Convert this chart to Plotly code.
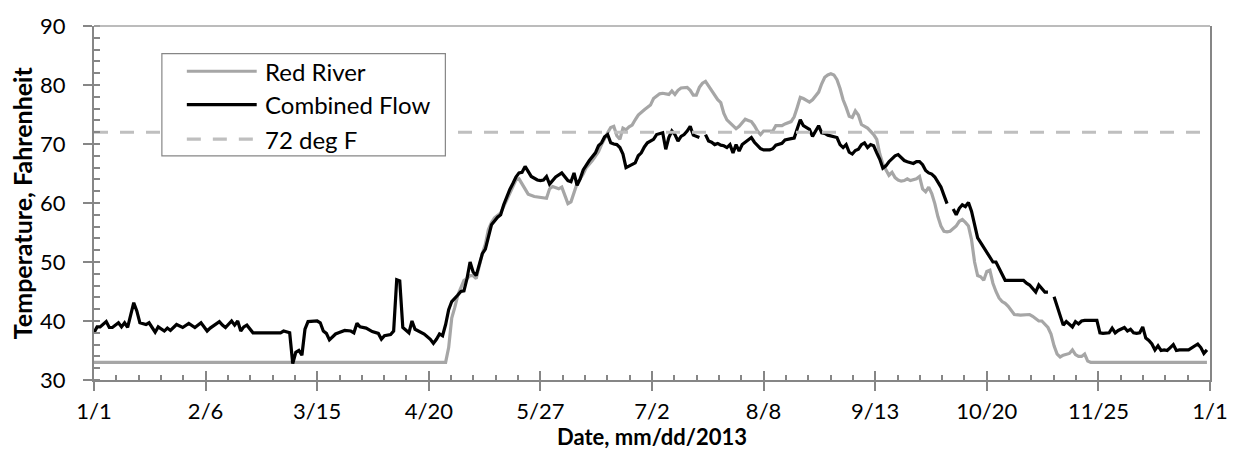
import pandas as pd
import plotly.graph_objects as go

# Daily water temperature (deg F), 2013, keyed by days since 1 Jan 2013.
# None marks days with no Combined Flow record.
red_days = [0, 115, 116, 117, 118, 119, 121, 122, 123, 124, 125, 126, 127, 128, 129, 130,
            131, 133, 134, 135, 136, 137, 138, 139, 140, 141, 142, 144, 146, 147, 148, 149,
            150, 152, 153, 154, 155, 156, 157, 158, 160, 161, 163, 165, 166, 167, 168, 169,
            170, 171, 172, 173, 174, 175, 176, 177, 178, 180, 182, 183, 185, 186, 188, 189,
            190, 191, 192, 194, 195, 196, 197, 198, 199, 200, 201, 202, 203, 204, 205, 206,
            207, 208, 209, 210, 211, 212, 213, 214, 215, 216, 217, 218, 219, 222, 223, 225,
            226, 228, 229, 230, 231, 232, 233, 234, 235, 237, 238, 239, 240, 241, 242, 243,
            244, 245, 246, 247, 248, 249, 250, 251, 253, 254, 255, 256, 257, 258, 259, 260,
            261, 262, 263, 264, 265, 266, 267, 269, 270, 271, 272, 273, 274, 275, 276, 277,
            278, 279, 280, 282, 283, 284, 285, 286, 287, 288, 289, 290, 291, 292, 293, 294,
            295, 296, 297, 298, 299, 300, 301, 303, 305, 306, 307, 308, 309, 310, 311, 312,
            313, 314, 315, 316, 317, 319, 320, 321, 322, 323, 324, 325, 326, 364]
red_temp = [33.0, 33.0, 35.5, 40.5, 42.3, 44.4, 46.9, 47.2, 47.7, 47.7, 47.2, 49.4, 51.4, 53.0, 55.5, 56.7,
            57.5, 58.3, 59.4, 60.5, 61.9, 63.0, 63.9, 64.1, 63.3, 62.3, 61.5, 61.1, 60.9, 60.9, 60.8, 62.4,
            62.8, 62.4, 62.7, 61.3, 59.9, 60.2, 61.6, 63.3, 64.9, 66.0, 67.2, 68.7, 69.9, 71.0, 71.9, 72.8,
            73.0, 71.4, 70.8, 72.7, 72.4, 72.9, 73.2, 74.1, 74.9, 75.8, 76.6, 77.7, 78.5, 78.6, 78.4, 79.0,
            78.4, 79.1, 79.5, 79.6, 79.1, 78.3, 78.3, 79.6, 80.3, 80.6, 79.8, 79.1, 78.1, 77.5, 77.0, 75.2,
            74.1, 73.6, 73.0, 72.6, 73.0, 73.7, 74.2, 74.0, 73.8, 73.1, 72.2, 71.6, 72.2, 72.2, 73.1, 73.1,
            73.4, 73.8, 74.6, 76.2, 77.9, 77.7, 77.4, 77.1, 77.5, 78.8, 80.2, 81.3, 81.7, 81.9, 81.7, 80.9,
            79.4, 77.5, 76.2, 74.7, 74.5, 75.6, 74.9, 73.3, 72.7, 72.2, 71.6, 70.8, 68.3, 66.6, 65.5, 64.7,
            65.2, 64.3, 63.9, 63.7, 63.8, 64.1, 63.8, 64.1, 64.5, 62.4, 61.9, 62.7, 61.6, 59.9, 57.7, 56.1,
            55.2, 55.1, 55.2, 56.1, 56.9, 57.2, 56.7, 56.1, 53.8, 50.0, 47.7, 47.5, 46.9, 48.4, 48.6, 46.4,
            45.0, 43.9, 43.3, 43.0, 42.5, 41.9, 41.1, 41.0, 41.0, 41.1, 40.8, 40.4, 40.0, 40.0, 39.5, 38.9,
            37.8, 35.8, 34.4, 33.9, 34.2, 34.5, 35.1, 34.3, 34.0, 34.0, 34.4, 33.2, 33.0, 33.0]

combined_days = [0, 1, 2, 4, 5, 6, 8, 9, 10, 11, 13, 14, 15, 17, 18, 20, 21, 23, 24, 25, 27, 29,
                 31, 33, 35, 37, 38, 41, 42, 43, 45, 46, 47, 48, 49, 50, 52, 61, 62, 64, 65, 66,
                 67, 68, 69, 70, 73, 74, 75, 76, 77, 79, 80, 82, 84, 85, 86, 87, 89, 91, 93, 94,
                 95, 97, 98, 99, 100, 101, 103, 104, 105, 106, 108, 110, 111, 112, 113, 114, 115,
                 116, 117, 119, 120, 121, 122, 123, 124, 125, 126, 127, 128, 129, 130, 132, 133,
                 134, 135, 136, 137, 138, 139, 140, 141, 142, 143, 145, 146, 147, 148, 149, 150,
                 151, 153, 154, 155, 156, 157, 158, 159, 160, 162, 164, 165, 166, 167, 168, 169,
                 170, 171, 172, 173, 174, 175, 176, 177, 178, 179, 180, 181, 183, 184, 186, 187,
                 188, 189, 190, 191, 192, 193, 194, 195, 196, 197, 198, 199, 200, 201, 202, 203,
                 204, 205, 206, 207, 208, 209, 210, 211, 212, 213, 214, 215, 216, 217, 218, 219,
                 221, 222, 223, 225, 226, 228, 229, 230, 231, 232, 233, 234, 235, 236, 237, 238,
                 239, 240, 242, 243, 244, 245, 246, 247, 248, 249, 250, 251, 252, 253, 254, 255,
                 256, 257, 258, 259, 260, 261, 262, 263, 264, 265, 266, 268, 269, 270, 271, 272,
                 273, 274, 275, 276, 277, 278, 279, 280, 281, 282, 283, 284, 285, 286, 287, 288,
                 289, 290, 291, 292, 293, 294, 295, 296, 297, 298, 304, 305, 306, 307, 308, 309,
                 310, 311, 312, 313, 314, 315, 316, 317, 318, 319, 320, 321, 322, 323, 324, 328,
                 329, 330, 332, 333, 334, 335, 336, 337, 338, 339, 340, 341, 342, 343, 344, 345,
                 346, 347, 348, 349, 350, 351, 352, 353, 354, 355, 358, 359, 360, 361, 362, 363,
                 364]
combined_temp = [38.0, 39.0, 39.0, 39.9, 38.9, 38.9, 39.7, 39.0, 39.7, 38.9, 43.1, 41.7, 39.7, 39.4, 39.7, 38.1, 39.0, 38.3, 38.8, 38.4, 39.4, 38.9,
                 39.6, 38.9, 39.7, 38.3, 38.8, 39.9, 39.3, 38.9, 40.0, 39.3, 40.0, 38.3, 39.0, 39.3, 38.0, 38.0, 38.3, 38.0, 32.8, 34.7,
                 35.0, 34.2, 38.6, 39.9, 40.0, 39.7, 38.3, 37.9, 36.8, 37.8, 38.0, 38.4, 38.3, 38.0, 39.6, 39.0, 38.8, 38.2, 37.9, 36.9,
                 37.5, 37.7, 38.3, 47.0, 46.8, 38.9, 38.0, 40.0, 38.6, 38.3, 37.8, 36.9, 36.2, 36.9, 37.8, 37.5, 39.4,
                 41.9, 43.3, 44.4, 45.0, 45.1, 47.2, 50.0, 48.3, 47.7, 49.7, 51.4, 52.2, 54.1, 56.3, 57.6, 58.0,
                 59.7, 61.1, 62.3, 63.3, 64.4, 65.1, 65.2, 66.2, 65.4, 64.5, 63.9, 63.8, 63.9, 64.5, 63.2, 63.8,
                 64.4, 65.1, 64.4, 63.8, 63.6, 65.1, 63.0, 64.1, 65.6, 67.2, 68.5, 69.7, 70.2, 71.2, 71.6, 70.2,
                 70.0, 69.9, 69.4, 68.3, 66.0, 66.3, 66.6, 66.8, 68.0, 68.5, 69.5, 70.2, 70.8, 71.6, 71.9, 69.1,
                 71.1, 72.2, 71.6, 70.5, 71.3, 71.6, 72.2, 73.0, 71.5, 71.3, 71.1, None, 71.6, 70.5, 70.3, 69.9,
                 70.1, 69.8, 69.7, 69.4, 69.9, 68.5, 69.9, 68.8, 69.9, 70.3, 70.7, 71.1, 70.3, 69.8, 69.2, 69.0,
                 69.0, 69.2, 69.8, 70.1, 70.7, 70.9, 71.0, 72.6, 74.1, 73.1, 72.8, 72.5, 71.3, 72.2, 73.1, 71.9,
                 71.8, 71.5, 71.3, 71.1, 69.9, 69.4, 69.9, 68.6, 68.3, 68.9, 69.1, 69.9, 70.2, 69.4, 69.9, 69.7,
                 68.5, 67.4, 65.9, 66.3, 67.0, 67.6, 68.0, 68.2, 67.6, 67.2, 67.0, 66.7, 67.0, 67.0, 66.5, 65.5,
                 65.1, 64.9, 64.4, 63.6, 62.7, 61.3, 59.9, None, 59.0, 58.0, 59.1, 59.7, 59.4, 60.1, 58.6, 56.1,
                 54.1, 53.3, 52.5, 51.5, 50.8, 50.0, 50.0, 48.9, 47.7, 46.9, 46.9, 46.4, 46.1, 45.5, 44.9, 46.1,
                 45.4, 44.9, 44.9, None, 44.1, 42.6, 40.8, 39.3, 39.9, 39.4, 39.0, 39.9, 39.5, 40.0, 40.1, 40.1,
                 38.0, 37.9, 38.0, 38.8, 38.0, 38.4, 38.6, 38.9, 38.3, 38.6, 38.0, 37.9, 38.0, 39.0, 37.1, 36.7,
                 36.1, 35.1, 35.8, 35.0, 35.1, 35.0, 35.5, 36.0, 35.0, 35.1, 35.1, 35.4, 35.8, 36.1, 35.5, 34.5,
                 35.1]

threshold_f = 72
year_start = pd.Timestamp("2013-01-01")
year_end = pd.Timestamp("2014-01-01")

x_tick_text = ["1/1", "2/6", "3/15", "4/20", "5/27", "7/2", "8/8", "9/13", "10/20", "11/25", "1/1"]
y_tick_vals = [30, 40, 50, 60, 70, 80, 90]

# Series names and styles
RED_NAME, COMB_NAME, THR_NAME = "Red River", "Combined Flow", "72 deg F"
RED_COLOR, COMB_COLOR, THR_COLOR = "#A6A6A6", "#000000", "#BFBFBF"
AXIS_COLOR = "#868686"
FONT = "Lato"
LINE_W = 3.2

def to_dates(days):
    return [year_start + pd.Timedelta(days=d) for d in days]

# Excel-style date axis: major unit 36.5 days, minor unit 7.3 days
major_step, minor_step = 36.5, 7.3
x_major = [year_start + pd.Timedelta(days=major_step * k) for k in range(len(x_tick_text))]
x_minor = [year_start + pd.Timedelta(days=minor_step * k) for k in range(51) if k % 5]

# Plot-area geometry (pixels)
W, H = 1240, 450
ML, MR, MT, MB = 94, 28, 20, 70
PW, PH = W - ML - MR, H - MT - MB

def px(xp):
    return (xp - ML) / PW

def py(yp):
    return (H - MB - yp) / PH

fig = go.Figure()
fig.add_trace(go.Scatter(x=to_dates(red_days), y=red_temp, mode="lines", name=RED_NAME,
                         line=dict(color=RED_COLOR, width=LINE_W), showlegend=False))
fig.add_trace(go.Scatter(x=to_dates(combined_days), y=combined_temp, mode="lines", name=COMB_NAME,
                         line=dict(color=COMB_COLOR, width=LINE_W), connectgaps=False,
                         showlegend=False))
fig.add_trace(go.Scatter(x=[year_start, year_end], y=[threshold_f, threshold_f], mode="lines",
                         name=THR_NAME, line=dict(color=THR_COLOR, width=3, dash="14px,12px"),
                         showlegend=False))
# carrier trace for the overlay axes that draw the inner half of the major ticks
fig.add_trace(go.Scatter(x=[year_start], y=[30], xaxis="x2", yaxis="y2", mode="lines",
                         line=dict(width=0), showlegend=False, hoverinfo="skip"))

tick_font = dict(family=FONT, size=22, color="#000000")
fig.update_layout(
    width=W, height=H,
    margin=dict(l=ML, r=MR, t=MT, b=MB, pad=0),
    paper_bgcolor="white", plot_bgcolor="white",
    font=dict(family=FONT, color="#000000"),
    xaxis=dict(
        type="date", range=[year_start, year_end], showgrid=False, zeroline=False,
        showline=True, linecolor=AXIS_COLOR, linewidth=2, mirror=False,
        tickmode="array", tickvals=x_major, ticktext=x_tick_text,
        ticks="outside", ticklen=9, tickwidth=1.5, tickcolor=AXIS_COLOR,
        tickfont=tick_font, ticklabelstandoff=2,
        minor=dict(tickmode="array", tickvals=x_minor, ticks="inside", ticklen=5,
                   tickwidth=1.5, tickcolor=AXIS_COLOR, showgrid=False),
    ),
    yaxis=dict(
        range=[30, 90], showgrid=False, zeroline=False,
        showline=True, linecolor=AXIS_COLOR, linewidth=2, mirror=True,
        tickmode="array", tickvals=y_tick_vals,
        ticks="outside", ticklen=9, tickwidth=1.5, tickcolor=AXIS_COLOR,
        tickfont=tick_font, ticklabelstandoff=13,
        minor=dict(dtick=2, ticks="inside", ticklen=6, tickwidth=1.5,
                   tickcolor=AXIS_COLOR, showgrid=False),
    ),
    xaxis2=dict(
        type="date", overlaying="x", anchor="y", side="bottom", range=[year_start, year_end],
        showgrid=False, zeroline=False, showline=False, showticklabels=False,
        tickmode="array", tickvals=x_major, ticks="inside", ticklen=9, tickwidth=1.5,
        tickcolor=AXIS_COLOR,
    ),
    yaxis2=dict(
        overlaying="y", anchor="x", side="left", range=[30, 90],
        showgrid=False, zeroline=False, showline=False, showticklabels=False,
        tickmode="array", tickvals=y_tick_vals, ticks="inside", ticklen=6, tickwidth=1.5,
        tickcolor=AXIS_COLOR,
    ),
    showlegend=False,
)

# top edge of the plot area
fig.add_shape(type="line", xref="paper", yref="paper", x0=0, x1=1, y0=1, y1=1,
              line=dict(color="#A6A6A6", width=1.5))

# axis titles
fig.add_annotation(text="<b>Date, mm/dd/2013</b>", xref="paper", yref="paper",
                   x=0.5, y=py(437), xanchor="center", yanchor="middle", showarrow=False,
                   font=dict(family=FONT, size=22, color="#000000"))
fig.add_annotation(text="<b>Temperature, Fahrenheit</b>", xref="paper", yref="paper",
                   x=px(22), y=0.5, xanchor="center", yanchor="middle", textangle=-90,
                   showarrow=False, font=dict(family=FONT, size=25, color="#000000"))

# legend box with line samples
fig.add_shape(type="rect", xref="paper", yref="paper", x0=px(162), x1=px(446),
              y0=py(152), y1=py(48), line=dict(color=AXIS_COLOR, width=1.2),
              fillcolor="white", layer="above")
legend_rows = [(RED_NAME, RED_COLOR, "solid", 66), (COMB_NAME, COMB_COLOR, "solid", 100),
               (THR_NAME, THR_COLOR, "14px,12px", 135)]
for name, color, dash, row_y in legend_rows:
    fig.add_shape(type="line", xref="paper", yref="paper", x0=px(187), x1=px(257),
                  y0=py(row_y), y1=py(row_y), line=dict(color=color, width=LINE_W, dash=dash),
                  layer="above")
    fig.add_annotation(text=name, xref="paper", yref="paper", x=px(263), y=py(row_y),
                       xanchor="left", yanchor="middle", showarrow=False,
                       font=dict(family=FONT, size=24, color="#000000"))

fig.write_html("out.html")
